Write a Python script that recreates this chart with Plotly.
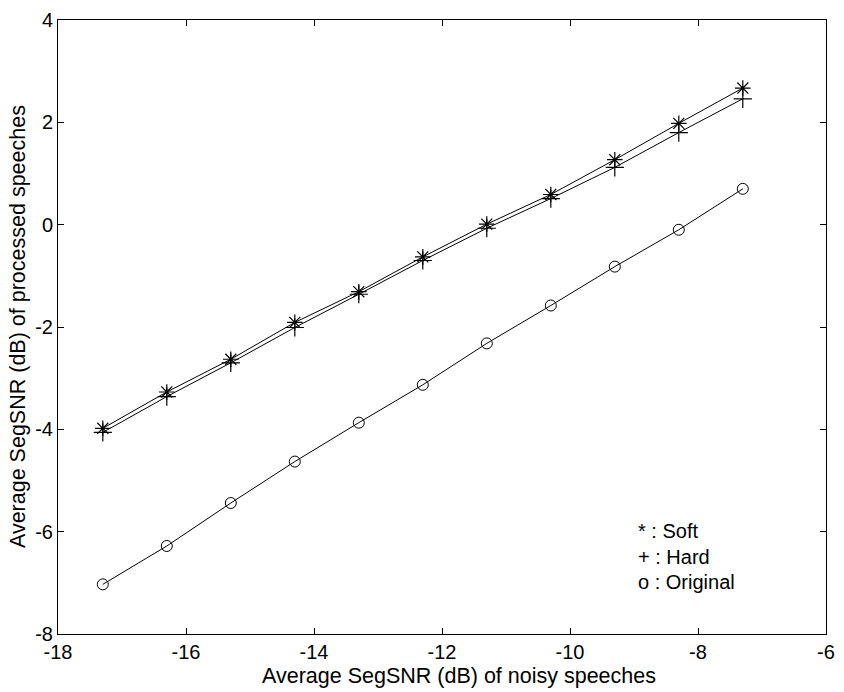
import plotly.graph_objects as go

x_noisy = [-17.3, -16.3, -15.3, -14.3, -13.3, -12.3, -11.3, -10.3, -9.3, -8.3, -7.3]
soft = [-3.98, -3.27, -2.63, -1.91, -1.31, -0.63, 0.01, 0.59, 1.27, 1.98, 2.67]
hard = [-4.06, -3.36, -2.70, -2.01, -1.36, -0.70, -0.07, 0.51, 1.12, 1.80, 2.46]
original = [-7.03, -6.28, -5.44, -4.63, -3.87, -3.13, -2.32, -1.58, -0.82, -0.10, 0.70]

x_ticks = [-18, -16, -14, -12, -10, -8, -6]
y_ticks = [-8, -6, -4, -2, 0, 2, 4]
legend_labels = ["* : Soft", "+ : Hard", "o : Original"]

FONT = "Liberation Sans, Arial, Helvetica, sans-serif"

fig = go.Figure()
line = dict(color="black", width=1)
fig.add_trace(go.Scatter(x=x_noisy, y=soft, mode="lines+markers", line=line,
                         marker=dict(symbol="asterisk-open", size=13, color="black",
                                     line=dict(color="black", width=1.2)),
                         showlegend=False))
fig.add_trace(go.Scatter(x=x_noisy, y=hard, mode="lines+markers", line=line,
                         marker=dict(symbol="cross-thin-open", size=13, color="black",
                                     line=dict(color="black", width=1.2)),
                         showlegend=False))
fig.add_trace(go.Scatter(x=x_noisy, y=original, mode="lines+markers", line=line,
                         marker=dict(symbol="circle-open", size=11, color="black",
                                     line=dict(color="black", width=1)),
                         showlegend=False))

axis_common = dict(showgrid=False, zeroline=False, showline=True, linecolor="black",
                   linewidth=1, mirror="ticks", ticks="inside", ticklen=6,
                   tickcolor="black", tickwidth=1,
                   tickfont=dict(family=FONT, size=20, color="black"))

fig.update_xaxes(range=[-18, -6], tickvals=x_ticks, ticktext=[str(v) for v in x_ticks],
                 **axis_common)
fig.update_yaxes(range=[-8, 4], tickvals=y_ticks, ticktext=[str(v) for v in y_ticks],
                 **axis_common)

annotations = [
    dict(text="Average SegSNR (dB) of noisy speeches", xref="paper", yref="paper",
         x=0.522, y=-0.068, xanchor="center", yanchor="middle", showarrow=False,
         font=dict(family=FONT, size=21.5, color="black")),
    dict(text="Average SegSNR (dB) of processed speeches", xref="paper", yref="paper",
         x=-0.052, y=0.5, xanchor="center", yanchor="middle", textangle=-90,
         showarrow=False, font=dict(family=FONT, size=21.5, color="black")),
]
legend_y = [0.167, 0.126, 0.084]
for lab, yy in zip(legend_labels, legend_y):
    annotations.append(dict(text=lab, xref="paper", yref="paper", x=0.752, y=yy,
                            xanchor="left", yanchor="middle", showarrow=False,
                            font=dict(family=FONT, size=20, color="black")))

fig.update_layout(width=844, height=692, margin=dict(l=58, r=9, t=13, b=58),
                  plot_bgcolor="white", paper_bgcolor="white",
                  annotations=annotations)

fig.write_html("out.html")
